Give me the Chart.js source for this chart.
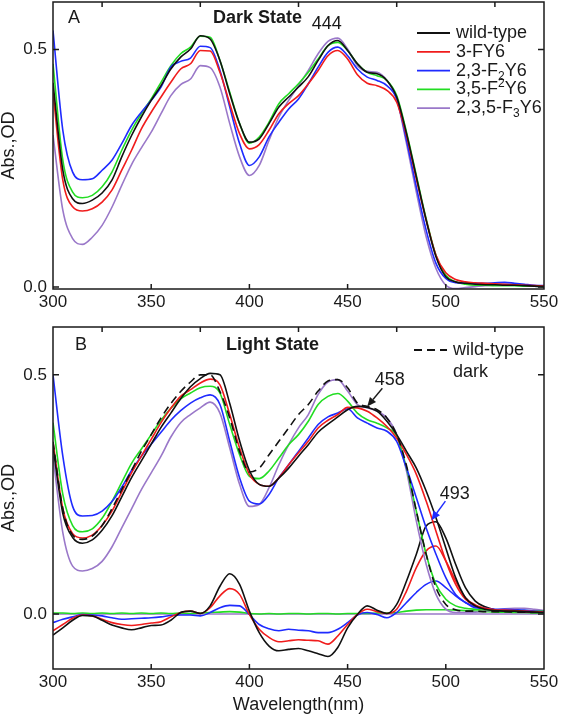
<!DOCTYPE html>
<html>
<head>
<meta charset="utf-8">
<script src="https://cdn.jsdelivr.net/npm/chart.js@4.4.0/dist/chart.umd.min.js"></script>
<style>
  html, body { margin: 0; padding: 0; background: #fff; }
  #wrap { position: relative; width: 564px; height: 720px; }
  canvas { position: absolute; left: 0; }
  #chart-a { top: 0; }
  #chart-b { top: 310px; }
</style>
</head>
<body>
<div id="wrap">
  <canvas id="chart-a" width="564" height="310"></canvas>
  <canvas id="chart-b" width="564" height="410"></canvas>
</div>
<script>
/* ── Data (absorbance, OD) ───────────────────────────────────── */

const WL = [300, 305, 310, 315, 320, 325, 330, 335, 340, 345, 350, 355, 360, 365, 370, 375, 380,
  385, 390, 395, 400, 405, 410, 415, 420, 425, 430, 435, 440, 445, 450, 455, 460, 465, 470,
  475, 480, 485, 490, 495, 500, 505, 510, 515, 520, 525, 530, 535, 540, 545, 550];

const X_TICKS_BOTTOM = [350, 400, 450, 500];
const X_TICKS_TOP    = [325, 375, 425, 475, 525];
const Y_TICKS        = [0, 0.5];

/* Panel A: dark state */
const DARK_WT = [0.430, 0.246, 0.186, 0.176, 0.183, 0.198, 0.225, 0.274, 0.319, 0.358, 0.393, 0.424, 0.459, 0.484, 0.501, 0.529, 0.522,
  0.477, 0.407, 0.344, 0.305, 0.312, 0.344, 0.379, 0.400, 0.421, 0.443, 0.477, 0.508, 0.519, 0.498, 0.470, 0.452, 0.449, 0.435,
  0.400, 0.323, 0.232, 0.141, 0.064, 0.022, 0.011, 0.008, 0.006, 0.005, 0.005, 0.004, 0.004, 0.003, 0.002, 0.001];
const DARK_3F = [0.410, 0.225, 0.169, 0.160, 0.165, 0.179, 0.204, 0.246, 0.288, 0.333, 0.368, 0.400, 0.431, 0.459, 0.470, 0.498, 0.497,
  0.452, 0.386, 0.323, 0.291, 0.300, 0.330, 0.365, 0.386, 0.403, 0.428, 0.456, 0.487, 0.498, 0.480, 0.447, 0.429, 0.424, 0.414,
  0.389, 0.319, 0.228, 0.141, 0.067, 0.030, 0.016, 0.011, 0.009, 0.008, 0.007, 0.006, 0.005, 0.004, 0.003, 0.002];
const DARK_23F = [0.540, 0.330, 0.242, 0.226, 0.228, 0.246, 0.267, 0.302, 0.340, 0.368, 0.393, 0.421, 0.463, 0.475, 0.482, 0.507, 0.504,
  0.456, 0.379, 0.302, 0.256, 0.274, 0.316, 0.347, 0.375, 0.396, 0.428, 0.463, 0.494, 0.505, 0.487, 0.459, 0.442, 0.435, 0.424,
  0.396, 0.309, 0.211, 0.120, 0.050, 0.018, 0.009, 0.008, 0.008, 0.008, 0.009, 0.010, 0.008, 0.006, 0.004, 0.003];
const DARK_35F = [0.470, 0.267, 0.200, 0.188, 0.193, 0.211, 0.242, 0.288, 0.330, 0.365, 0.396, 0.431, 0.466, 0.491, 0.505, 0.528, 0.526,
  0.477, 0.410, 0.344, 0.303, 0.316, 0.347, 0.386, 0.407, 0.428, 0.452, 0.480, 0.508, 0.515, 0.498, 0.470, 0.452, 0.445, 0.435,
  0.403, 0.326, 0.235, 0.144, 0.067, 0.025, 0.011, 0.006, 0.004, 0.004, 0.003, 0.003, 0.003, 0.002, 0.002, 0.001];
const DARK_235F = [0.320, 0.162, 0.102, 0.090, 0.105, 0.130, 0.168, 0.214, 0.258, 0.293, 0.326, 0.365, 0.403, 0.426, 0.438, 0.466, 0.462,
  0.421, 0.344, 0.274, 0.235, 0.256, 0.309, 0.358, 0.393, 0.424, 0.456, 0.491, 0.517, 0.524, 0.501, 0.466, 0.454, 0.452, 0.435,
  0.396, 0.302, 0.200, 0.106, 0.039, 0.004, -0.003, -0.001, 0.001, 0.003, 0.004, 0.006, 0.005, 0.004, 0.002, 0.001];

/* Panel B: light state */
const LIGHT_WT = [0.350, 0.210, 0.160, 0.148, 0.155, 0.175, 0.205, 0.245, 0.285, 0.320, 0.355, 0.390, 0.420, 0.450, 0.475, 0.492, 0.503,
  0.500, 0.440, 0.362, 0.300, 0.271, 0.267, 0.284, 0.305, 0.330, 0.354, 0.380, 0.397, 0.412, 0.427, 0.434, 0.432, 0.424, 0.403,
  0.375, 0.340, 0.305, 0.257, 0.201, 0.138, 0.076, 0.034, 0.017, 0.010, 0.007, 0.006, 0.006, 0.005, 0.004, 0.003];
const LIGHT_3F = [0.360, 0.220, 0.168, 0.159, 0.165, 0.185, 0.215, 0.255, 0.295, 0.330, 0.365, 0.400, 0.430, 0.455, 0.469, 0.483, 0.491,
  0.479, 0.417, 0.347, 0.292, 0.271, 0.267, 0.285, 0.312, 0.337, 0.361, 0.389, 0.405, 0.417, 0.432, 0.431, 0.424, 0.410, 0.392,
  0.368, 0.333, 0.292, 0.236, 0.173, 0.111, 0.062, 0.031, 0.017, 0.012, 0.009, 0.008, 0.007, 0.006, 0.005, 0.004];
const LIGHT_23F = [0.500, 0.330, 0.225, 0.205, 0.206, 0.215, 0.235, 0.265, 0.300, 0.330, 0.355, 0.380, 0.405, 0.425, 0.441, 0.452, 0.458,
  0.438, 0.361, 0.285, 0.236, 0.230, 0.250, 0.285, 0.312, 0.340, 0.368, 0.396, 0.412, 0.420, 0.429, 0.410, 0.399, 0.389, 0.382,
  0.361, 0.305, 0.243, 0.180, 0.125, 0.076, 0.041, 0.024, 0.013, 0.012, 0.010, 0.010, 0.009, 0.008, 0.006, 0.005];
const LIGHT_35F = [0.400, 0.250, 0.185, 0.172, 0.178, 0.200, 0.235, 0.275, 0.315, 0.345, 0.375, 0.405, 0.430, 0.450, 0.462, 0.473, 0.476,
  0.462, 0.396, 0.333, 0.288, 0.283, 0.299, 0.326, 0.354, 0.375, 0.403, 0.438, 0.455, 0.461, 0.445, 0.420, 0.406, 0.399, 0.389,
  0.372, 0.305, 0.215, 0.125, 0.062, 0.031, 0.017, 0.012, 0.010, 0.009, 0.008, 0.008, 0.007, 0.007, 0.006, 0.006];
const LIGHT_235F = [0.330, 0.170, 0.100, 0.090, 0.095, 0.110, 0.140, 0.180, 0.220, 0.260, 0.295, 0.330, 0.370, 0.400, 0.417, 0.431, 0.443,
  0.420, 0.347, 0.271, 0.225, 0.229, 0.264, 0.312, 0.354, 0.389, 0.417, 0.459, 0.485, 0.490, 0.466, 0.438, 0.431, 0.424, 0.410,
  0.375, 0.299, 0.194, 0.104, 0.041, 0.010, 0.003, 0.003, 0.004, 0.006, 0.008, 0.011, 0.012, 0.012, 0.010, 0.007];
const WT_DARK_REF = [0.360, 0.220, 0.165, 0.156, 0.163, 0.185, 0.220, 0.260, 0.300, 0.340, 0.375, 0.410, 0.440, 0.465, 0.485, 0.500, 0.500,
  0.465, 0.410, 0.340, 0.297, 0.305, 0.333, 0.361, 0.389, 0.417, 0.438, 0.466, 0.487, 0.490, 0.473, 0.441, 0.434, 0.427, 0.410,
  0.375, 0.310, 0.215, 0.125, 0.055, 0.020, 0.009, 0.006, 0.006, 0.005, 0.005, 0.005, 0.004, 0.004, 0.003, 0.003];

/* Panel B: light − dark difference spectra */
const DIFF_WT = [-0.044, -0.029, -0.013, -0.003, -0.004, -0.013, -0.023, -0.029, -0.033, -0.029, -0.024, -0.023, -0.013, 0.003, 0.006, 0.001, 0.017,
  0.058, 0.084, 0.062, 0.006, -0.039, -0.067, -0.077, -0.074, -0.072, -0.077, -0.083, -0.089, -0.070, -0.029, -0.001, 0.017, 0.008, 0.001,
  0.020, 0.069, 0.125, 0.184, 0.193, 0.159, 0.104, 0.055, 0.027, 0.015, 0.009, 0.007, 0.006, 0.005, 0.004, 0.004];
const DIFF_3F = [-0.035, -0.022, -0.009, -0.002, -0.004, -0.011, -0.018, -0.022, -0.024, -0.022, -0.019, -0.016, -0.006, 0.003, 0.006, 0.001, 0.013,
  0.038, 0.053, 0.041, -0.001, -0.032, -0.049, -0.058, -0.056, -0.054, -0.055, -0.056, -0.063, -0.046, -0.022, -0.001, 0.010, 0.005, 0.001,
  0.010, 0.048, 0.097, 0.132, 0.142, 0.111, 0.069, 0.034, 0.019, 0.012, 0.009, 0.007, 0.006, 0.005, 0.004, 0.004];
const DIFF_23F = [-0.018, -0.011, -0.006, -0.001, -0.002, -0.004, -0.008, -0.011, -0.010, -0.009, -0.008, -0.006, -0.003, -0.002, -0.002, -0.004, 0.003,
  0.013, 0.018, 0.017, -0.001, -0.022, -0.031, -0.035, -0.032, -0.034, -0.035, -0.039, -0.039, -0.032, -0.018, -0.002, 0.003, -0.001, -0.008,
  0.003, 0.024, 0.045, 0.062, 0.069, 0.055, 0.038, 0.024, 0.015, 0.010, 0.008, 0.007, 0.006, 0.005, 0.004, 0.003];
const DIFF_35F = [0.002, 0.002, 0.001, 0.002, 0.001, 0.002, 0.001, 0.002, 0.001, 0.002, 0.001, 0.002, 0.001, 0.002, 0.001, 0.002, 0.003,
  0.004, 0.005, 0.004, 0.001, 0.000, 0.001, 0.000, 0.001, 0.001, 0.000, 0.001, 0.001, 0.000, 0.001, 0.001, 0.001, 0.002, 0.002,
  0.003, 0.006, 0.008, 0.009, 0.009, 0.009, 0.008, 0.007, 0.006, 0.005, 0.004, 0.004, 0.003, 0.003, 0.002, 0.002];
const DIFF_235F = [0.000, 0.000, 0.000, 0.000, 0.000, 0.000, 0.000, 0.000, 0.000, 0.000, 0.000, 0.000, 0.000, 0.000, 0.000, 0.000, 0.000,
  0.000, 0.000, 0.000, 0.000, 0.000, 0.000, 0.000, 0.000, 0.000, 0.000, 0.000, 0.000, 0.000, 0.000, 0.000, 0.000, 0.000, 0.000,
  0.000, 0.000, 0.000, 0.000, 0.000, 0.000, 0.000, 0.000, 0.000, 0.000, 0.000, 0.000, 0.000, 0.000, 0.000, 0.000];

/* ── Style ───────────────────────────────────────────────────── */

const FONT = "'Liberation Sans', Arial, Helvetica, sans-serif";
const INK  = '#1a1a1a';

const COLORS = {
  wt:   '#111111',
  f3:   '#f01c1c',
  f23:  '#1f2bff',
  f35:  '#22dd22',
  f235: '#9a78c9',
};

Chart.defaults.font.family = FONT;
Chart.defaults.color = INK;

/* ── Helpers ─────────────────────────────────────────────────── */

function series(values, color, dash) {
  return {
    data: WL.map((x, i) => ({ x, y: values[i] })),
    borderColor: color,
    borderWidth: 1.6,
    borderDash: dash || [],
    pointRadius: 0,
    fill: false,
    cubicInterpolationMode: 'monotone',
  };
}

function drawRich(ctx, parts, x, y, size) {
  let cx = x;
  parts.forEach(p => {
    const small = p.sub || p.sup;
    const s = small ? Math.round(size * 0.66) : size;
    ctx.font = `${s}px ${FONT}`;
    const dy = p.sub ? size * 0.32 : p.sup ? -size * 0.3 : 0;
    ctx.fillText(p.t, cx, y + dy);
    cx += ctx.measureText(p.t).width;
  });
}

function drawArrow(ctx, x1, y1, x2, y2, color) {
  const ang = Math.atan2(y2 - y1, x2 - x1);
  const hl = 9, hw = 4;
  ctx.strokeStyle = color; ctx.fillStyle = color; ctx.lineWidth = 1.4;
  ctx.beginPath();
  ctx.moveTo(x1, y1);
  ctx.lineTo(x2 - Math.cos(ang) * hl, y2 - Math.sin(ang) * hl);
  ctx.stroke();
  ctx.beginPath();
  ctx.moveTo(x2, y2);
  ctx.lineTo(x2 - Math.cos(ang) * hl - Math.sin(ang) * hw, y2 - Math.sin(ang) * hl + Math.cos(ang) * hw);
  ctx.lineTo(x2 - Math.cos(ang) * hl + Math.sin(ang) * hw, y2 - Math.sin(ang) * hl - Math.cos(ang) * hw);
  ctx.closePath();
  ctx.fill();
}

/* frame, inward ticks, labels, legend and arrows drawn on top */
function makeDeco(cfg) {
  return {
    id: 'deco-' + cfg.name,
    afterDatasetsDraw(chart) {
      const ctx = chart.ctx, a = chart.chartArea;
      const xs = chart.scales.x, ys = chart.scales.y;
      ctx.save();

      ctx.strokeStyle = INK; ctx.lineWidth = 1.5;
      ctx.strokeRect(a.left, a.top, a.right - a.left, a.bottom - a.top);
      ctx.beginPath();
      X_TICKS_BOTTOM.forEach(v => { const p = xs.getPixelForValue(v); ctx.moveTo(p, a.bottom); ctx.lineTo(p, a.bottom - 5); });
      X_TICKS_TOP.forEach(v => { const p = xs.getPixelForValue(v); ctx.moveTo(p, a.top); ctx.lineTo(p, a.top + 5); });
      Y_TICKS.forEach(v => {
        const p = ys.getPixelForValue(v);
        ctx.moveTo(a.left, p); ctx.lineTo(a.left + 6, p);
        ctx.moveTo(a.right, p); ctx.lineTo(a.right - 6, p);
      });
      ctx.stroke();

      ctx.fillStyle = INK;
      ctx.textBaseline = 'middle';
      ctx.textAlign = 'left';
      ctx.font = `18px ${FONT}`;
      ctx.fillText(cfg.letter, cfg.letterX, cfg.letterY);
      ctx.font = `bold 18px ${FONT}`;
      ctx.fillText(cfg.title, cfg.titleX, cfg.titleY);

      /* legend */
      cfg.legend.forEach((row, i) => {
        const y = cfg.legendY + i * cfg.legendStep;
        if (row.color) {
          ctx.strokeStyle = row.color; ctx.lineWidth = 1.8;
          ctx.setLineDash(row.dash || []);
          ctx.beginPath(); ctx.moveTo(cfg.legendX, y); ctx.lineTo(cfg.legendX + 33, y); ctx.stroke();
          ctx.setLineDash([]);
        }
        ctx.fillStyle = INK;
        drawRich(ctx, row.parts, cfg.legendX + 39, y, 18);
      });

      /* peak annotations (data coordinates) */
      ctx.font = `18px ${FONT}`;
      ctx.textAlign = 'center';
      ctx.fillStyle = INK;
      cfg.notes.forEach(n => {
        ctx.fillText(n.text, xs.getPixelForValue(n.x), ys.getPixelForValue(n.y));
        if (n.arrow) {
          const [x1, y1, x2, y2] = n.arrow;
          drawArrow(ctx, xs.getPixelForValue(x1), ys.getPixelForValue(y1),
            xs.getPixelForValue(x2), ys.getPixelForValue(y2), n.color || INK);
        }
      });
      ctx.restore();
    },
  };
}

function makeOptions(p) {
  return {
    responsive: false,
    animation: false,
    events: [],
    layout: { padding: { top: p.padTop, right: 20, left: 0, bottom: 0 } },
    plugins: { legend: { display: false }, tooltip: { enabled: false } },
    scales: {
      x: {
        type: 'linear', min: 300, max: 550,
        grid: { display: false, drawTicks: false },
        border: { display: false },
        ticks: { stepSize: 50, autoSkip: false, maxRotation: 0, padding: 3, color: INK, font: { size: 17 } },
        title: p.xTitle
          ? { display: true, text: p.xTitle, color: INK, font: { size: 18, lineHeight: 1 }, padding: { top: 0, bottom: 6 } }
          : { display: false },
        afterFit: s => { s.height = p.xAxisH; s.paddingLeft = 0; s.paddingRight = 0; },
      },
      y: {
        min: p.yMin, max: 0.6,
        grid: { display: false, drawTicks: false },
        border: { display: false },
        afterBuildTicks: s => { s.ticks = Y_TICKS.map(v => ({ value: v })); },
        ticks: { padding: 6, color: INK, font: { size: 17 }, callback: v => Number(v).toFixed(1) },
        title: { display: true, text: 'Abs.,OD', color: INK, font: { size: 18, lineHeight: 1 }, padding: { top: 0, bottom: 0 } },
        afterFit: s => { s.width = 53; s.paddingTop = 0; s.paddingBottom = 0; },
      },
    },
  };
}

/* ── Panel A: dark state ─────────────────────────────────────── */
new Chart(document.getElementById('chart-a'), {
  type: 'line',
  data: {
    datasets: [
      series(DARK_WT, COLORS.wt),
      series(DARK_3F, COLORS.f3),
      series(DARK_23F, COLORS.f23),
      series(DARK_35F, COLORS.f35),
      series(DARK_235F, COLORS.f235),
    ],
  },
  options: makeOptions({ padTop: 2, yMin: -0.004, xAxisH: 21 }),
  plugins: [makeDeco({
    name: 'a', letter: 'A', letterX: 68, letterY: 18,
    title: 'Dark State', titleX: 213, titleY: 18,
    legendX: 417, legendY: 33, legendStep: 18.8,
    legend: [
      { color: COLORS.wt,   parts: [{ t: 'wild-type' }] },
      { color: COLORS.f3,   parts: [{ t: '3-FY6' }] },
      { color: COLORS.f23,  parts: [{ t: '2,3-F' }, { t: '2', sub: true }, { t: 'Y6' }] },
      { color: COLORS.f35,  parts: [{ t: '3,5-F' }, { t: '2', sup: true }, { t: 'Y6' }] },
      { color: COLORS.f235, parts: [{ t: '2,3,5-F' }, { t: '3', sub: true }, { t: 'Y6' }] },
    ],
    notes: [{ text: '444', x: 439.4, y: 0.553 }],
  })],
});

/* ── Panel B: light state ────────────────────────────────────── */
new Chart(document.getElementById('chart-b'), {
  type: 'line',
  data: {
    datasets: [
      series(WT_DARK_REF, COLORS.wt, [8, 5]),
      series(LIGHT_WT, COLORS.wt),
      series(LIGHT_3F, COLORS.f3),
      series(LIGHT_23F, COLORS.f23),
      series(LIGHT_35F, COLORS.f35),
      series(LIGHT_235F, COLORS.f235),
      series(DIFF_WT, COLORS.wt),
      series(DIFF_3F, COLORS.f3),
      series(DIFF_23F, COLORS.f23),
      series(DIFF_35F, COLORS.f35),
      series(DIFF_235F, COLORS.f235),
    ],
  },
  options: makeOptions({ padTop: 17, yMin: -0.115, xAxisH: 51, xTitle: 'Wavelength(nm)' }),
  plugins: [makeDeco({
    name: 'b', letter: 'B', letterX: 75, letterY: 35,
    title: 'Light State', titleX: 226, titleY: 35,
    legendX: 414, legendY: 40, legendStep: 22,
    legend: [
      { color: COLORS.wt, dash: [8, 5], parts: [{ t: 'wild-type' }] },
      { parts: [{ t: 'dark' }] },
    ],
    notes: [
      { text: '458', x: 471.5, y: 0.49, arrow: [467.7, 0.472, 460, 0.434] },
      { text: '493', x: 504.6, y: 0.251, arrow: [499.8, 0.236, 492.7, 0.196], color: '#1f2bff' },
    ],
  })],
});
</script>
</body>
</html>
